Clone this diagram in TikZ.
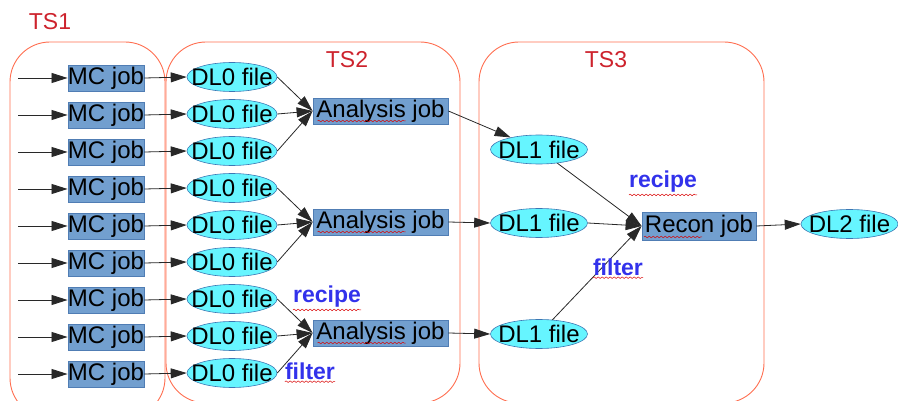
\documentclass[tikz,border=0pt]{standalone}
\usepackage{fontspec}
\setmainfont{Liberation Sans}
\usetikzlibrary{arrows.meta,decorations.pathmorphing,shapes.geometric}
\definecolor{tsred}{RGB}{205,35,45}
\definecolor{tsline}{RGB}{255,110,80}
\definecolor{jobfill}{RGB}{114,159,207}
\definecolor{jobline}{RGB}{80,125,180}
\definecolor{filefill}{RGB}{102,245,255}
\definecolor{fileline}{RGB}{60,120,180}
\definecolor{lblblue}{RGB}{50,50,235}
\definecolor{arrgray}{RGB}{40,40,40}
\newcommand{\zw}[1]{\makebox[0pt]{#1}}
\tikzset{
  tsbox/.style={draw=tsline, line width=0.9pt, rounded corners=40pt},
  tslabel/.style={text=tsred, font=\fontsize{23}{26}\selectfont, inner sep=0pt},
  jobbox/.style={rectangle, draw=jobline, fill=jobfill, line width=0.8pt, inner sep=0pt, minimum height=26pt, font=\fontsize{24}{26}\selectfont},
  filebox/.style={ellipse, draw=fileline, fill=filefill, line width=0.6pt, inner sep=0pt, minimum width=90pt, minimum height=29pt, font=\fontsize{24}{26}\selectfont},
  blulbl/.style={text=lblblue, font=\fontsize{23}{26}\selectfont\bfseries, inner sep=0pt},
  arr/.style={draw=arrgray, line width=0.8pt, -{Triangle[length=16pt,width=10pt]}},
  wavy/.style={draw=red!85!black, line width=0.5pt, decorate, decoration={snake, amplitude=0.8pt, segment length=4pt}}
}
\begin{document}
\begin{tikzpicture}[x=1pt,y=-1pt]
\useasboundingbox (0,0) rectangle (898,401);
\begin{scope}
\clip (0,0) rectangle (898,401);
\draw[tsbox] (10,42) rectangle (165,418);
\draw[tsbox] (166,42) rectangle (460,403);
\draw[tsbox] (479,42) rectangle (764,403);
\end{scope}
\node[tslabel] (ts1) at (50,22) {TS1};
\node[tslabel] (ts2) at (347,60) {TS2};
\node[tslabel] (ts3) at (606,60) {TS3};
% MC jobs and DL0 files
\foreach \i in {1,...,9} {
  \pgfmathsetmacro{\yy}{78+37*(\i-1)}
  \coordinate (s\i) at (18,\yy);
  \node[jobbox, minimum width=76pt] (mc\i) at (106,\yy) {MC job};
  \node[filebox] (d\i) at (232,\yy-1) {\zw{DL0 file}};
  \draw[arr] (s\i) -- (mc\i.west);
  \draw[arr] (mc\i.east) -- (d\i.west);
}
% analysis jobs
\node[jobbox, minimum width=135pt] (an1) at (380.5,111) {Analysis job};
\node[jobbox, minimum width=135pt] (an2) at (380.5,222) {Analysis job};
\node[jobbox, minimum width=135pt] (an3) at (380.5,333) {Analysis job};
\draw[arr] (d1.east) -- (an1.west);
\draw[arr] (d2.east) -- (an1.west);
\draw[arr] (d3.east) -- (an1.west);
\draw[arr] (d4.east) -- (an2.west);
\draw[arr] (d5.east) -- (an2.west);
\draw[arr] (d6.east) -- (an2.west);
\draw[arr] (d7.east) -- (an3.west);
\draw[arr] (d8.east) -- (an3.west);
\draw[arr] (d9.east) -- (an3.west);
% DL1 files
\node[filebox, minimum width=97pt] (e1) at (539,149.5) {\zw{DL1 file}};
\node[filebox, minimum width=97pt] (e2) at (539,223) {\zw{DL1 file}};
\node[filebox, minimum width=97pt] (e3) at (539,334) {\zw{DL1 file}};
\draw[arr] (an1.east) -- (e1);
\draw[arr] (an2.east) -- (e2.west);
\draw[arr] (an3.east) -- (e3.west);
% recon
\node[jobbox, minimum width=114pt, minimum height=28pt] (rc) at (699,226) {Recon job};
\draw[arr] (e1) -- (rc.west);
\draw[arr] (e2.east) -- (rc.west);
\draw[arr] (e3) -- (rc.west);
\node[filebox, minimum width=97pt] (f2) at (849.5,224) {\zw{DL2 file}};
\draw[arr] (rc.east) -- (f2.west);
% labels
\node[blulbl] (r1) at (327,297) {recipe};
\node[blulbl] (fl1) at (310,371) {filter};
\node[blulbl] (r2) at (663,182) {recipe};
\node[blulbl] (fl2) at (618,267) {filter};
% spell-check underlines
\foreach \n in {an1,an2,an3} {
  \draw[wavy] ([xshift=-63pt,yshift=-10pt]\n.center) -- ++(88,0);
}
\draw[wavy] ([xshift=-55pt,yshift=-11pt]rc.center) -- ++(58,0);
\draw[wavy] ([yshift=-2pt]r1.south west) -- ([yshift=-2pt]r1.south east);
\draw[wavy] ([yshift=-2pt]r2.south west) -- ([yshift=-2pt]r2.south east);
\draw[wavy] ([yshift=-2pt]fl1.south west) -- ([yshift=-2pt]fl1.south east);
\draw[wavy] ([yshift=-2pt]fl2.south west) -- ([yshift=-2pt]fl2.south east);
\end{tikzpicture}
\end{document}
